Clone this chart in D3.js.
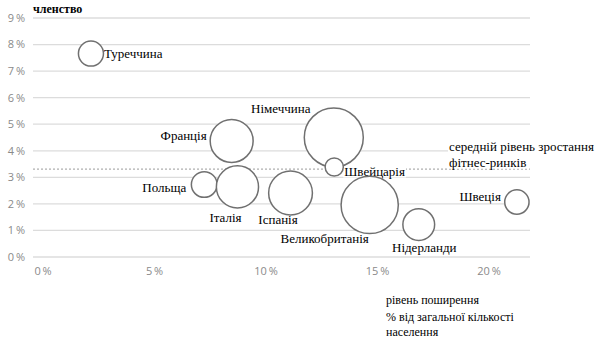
<!DOCTYPE html>
<html>
<head>
<meta charset="utf-8">
<script src="https://cdn.jsdelivr.net/npm/d3@7"></script>
<style>
  body { margin: 0; background: #fff; }
  svg { display: block; }
</style>
</head>
<body>
<svg width="595" height="339"></svg>
<script>
/// data
var countries = ["Туреччина", "Франція", "Польща", "Італія", "Іспанія",
                 "Німеччина", "Швейцарія", "Великобританія", "Нідерланди", "Швеція"];
var penetration = [2.15, 8.46, 7.23, 8.72, 11.1, 13.04, 13.06, 14.65, 16.85, 21.25]; // % населення
var growth = [7.66, 4.37, 2.73, 2.64, 2.41, 4.5, 3.39, 1.96, 1.22, 2.07];              // % членство
var members = [1.8, 5.3, 1.9, 5.1, 5.5, 10.0, 0.95, 9.4, 2.9, 1.7];                   // bubble size
var avgGrowth = 3.31;
var xTicks = [0, 5, 10, 15, 20];
var yTicks = [0, 1, 2, 3, 4, 5, 6, 7, 8, 9];

// where each name sits next to its bubble
var labelPos = [
  {dx: 13, dy: 0, anchor: "start"},
  {dx: -25, dy: -6, anchor: "end"},
  {dx: -18, dy: 2.5, anchor: "end"},
  {dx: -12, dy: 31, anchor: "middle"},
  {dx: -12.5, dy: 26, anchor: "middle"},
  {dx: -53, dy: -29.5, anchor: "middle"},
  {dx: 10, dy: 4, anchor: "start"},
  {dx: -45, dy: 33, anchor: "middle"},
  {dx: 5.5, dy: 22.5, anchor: "middle"},
  {dx: -16, dy: -6, anchor: "end"}
];

var svg = d3.select("svg");
var serif = "'Liberation Serif', 'Times New Roman', serif";

var x = d3.scaleLinear().domain([0, 20]).range([43, 489]);
var y = d3.scaleLinear().domain([0, 9]).range([257, 18]);
var r = d3.scaleSqrt().domain([0, 10]).range([0, 29.5]);

/// gridlines
svg.append("g").selectAll("line")
    .data(yTicks)
  .enter().append("line")
    .attr("x1", 33).attr("x2", 530)
    .attr("y1", function(d) { return y(d); })
    .attr("y2", function(d) { return y(d); })
    .style("stroke", "#dcdcdc")
    .style("stroke-width", 1.3);

// y tick labels
svg.append("g").selectAll("text")
    .data(yTicks)
  .enter().append("text")
    .attr("x", 25)
    .attr("y", function(d) { return y(d); })
    .attr("dy", "0.35em")
    .attr("text-anchor", "end")
    .text(function(d) { return d + "\u2009%"; })
    .style("font-family", "'Open Sans', sans-serif")
    .style("font-size", "11px")
    .style("fill", "#8a8a8a");

// x tick labels
svg.append("g").selectAll("text")
    .data(xTicks)
  .enter().append("text")
    .attr("x", function(d) { return x(d); })
    .attr("y", 271)
    .attr("dy", "0.35em")
    .attr("text-anchor", "middle")
    .text(function(d) { return d + "\u2009%"; })
    .style("font-family", "'Open Sans', sans-serif")
    .style("font-size", "11px")
    .style("fill", "#8a8a8a");

/// average growth line
svg.append("line")
    .attr("x1", 33).attr("x2", 530)
    .attr("y1", y(avgGrowth)).attr("y2", y(avgGrowth))
    .style("stroke", "#9a9a9a")
    .style("stroke-width", 1)
    .style("stroke-dasharray", "2,2");

function label(g, px, py, txt, anchor, size, weight) {
  var t = g.append("text")
      .attr("x", px).attr("y", py)
      .attr("dy", "0.35em")
      .attr("text-anchor", anchor)
      .text(txt)
      .style("font-family", serif)
      .style("font-size", size + "px")
      .style("font-weight", weight || "normal")
      .style("fill", "#000");
  var b = t.node().getBBox();
  g.insert("rect", function() { return t.node(); })
      .attr("x", b.x - 1).attr("y", b.y + 1)
      .attr("width", b.width + 2).attr("height", b.height - 2)
      .style("fill", "#fff");
  return t;
}

var avgG = svg.append("g");
label(avgG, 449, 146, "середній рівень зростання", "start", 13);
label(avgG, 449, 162, "фітнес-ринків", "start", 13);

// names go under the bubbles so the circles stay whole
var labels = svg.append("g");
countries.forEach(function(d, i) {
  var p = labelPos[i];
  label(labels, x(penetration[i]) + p.dx, y(growth[i]) + p.dy, d, p.anchor, 13);
});

/// bubbles
var bubbles = svg.append("g").selectAll("circle")
    .data(countries)
  .enter().append("circle")
    .attr("cx", function(d, i) { return x(penetration[i]); })
    .attr("cy", function(d, i) { return y(growth[i]); })
    .attr("r", function(d, i) { return r(members[i]); })
    .style("fill", "#fff")
    .style("stroke", "#707070")
    .style("stroke-width", 1.5);

/// axis titles
var titles = svg.append("g");
label(titles, 33, 9, "членство", "start", 12, "bold");
label(titles, 386, 300, "рівень поширення", "start", 12);
label(titles, 386, 317, "% від загальної кількості", "start", 12);
label(titles, 386, 332, "населення", "start", 12);
</script>
</body>
</html>
